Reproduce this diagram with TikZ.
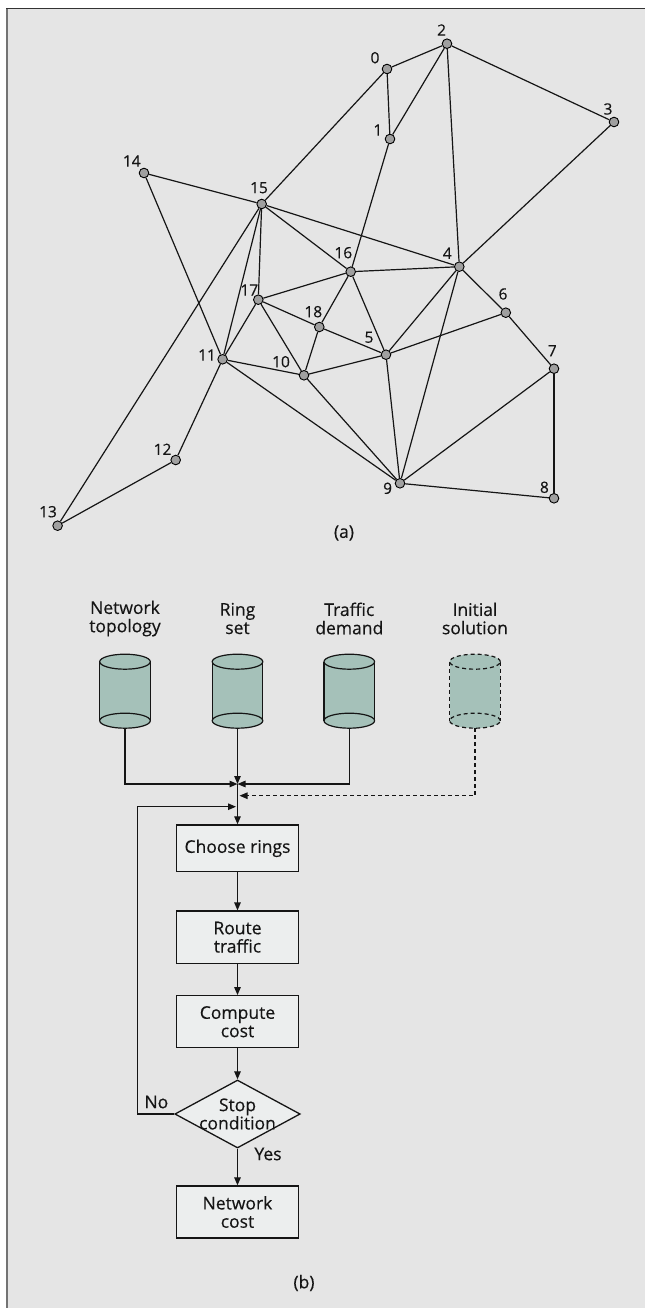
\documentclass[tikz,border=0pt]{standalone}
\usepackage{fontspec}
\setmainfont{Open Sans}[FakeBold=0.35]
\usetikzlibrary{shapes.geometric,arrows.meta}

\definecolor{panelgray}{HTML}{E5E5E5}
\definecolor{boxfill}{HTML}{ECEEEE}
\definecolor{storefill}{HTML}{A5C1B9}
\definecolor{sitegray}{HTML}{A0A0A0}
\definecolor{inkcol}{HTML}{151515}

\tikzset{
  store/.pic={
    \fill[storefill] (-25.3,0) rectangle (25.3,59);
    \fill[storefill] (0,59) ellipse[x radius=25.3pt,y radius=7.5pt];
    \draw (-25.3,0) -- (-25.3,59) (25.3,0) -- (25.3,59);
    \draw[fill=storefill] (0,0) ellipse[x radius=25.3pt,y radius=7.5pt];
    \draw (0,59) ellipse[x radius=25.3pt,y radius=7.5pt];
    \coordinate (-bot) at (0,66.5);
  }
}

\begin{document}
\begin{tikzpicture}[x=1pt,y=-1pt,
  >={Triangle[length=8pt,width=6.5pt]},
  link/.style={draw=inkcol,line width=1.2pt},
  site/.style={circle,draw=black,line width=0.9pt,fill=sitegray,inner sep=0pt,minimum size=9.6pt},
  num/.style={font=\fontsize{15.5}{16}\selectfont,text=inkcol,inner sep=0pt},
  txt/.style={font=\fontsize{17.5}{18.3}\selectfont,text=inkcol,align=center,inner sep=0pt},
  flow/.style={draw=inkcol,line width=1.2pt},
  procbox/.style={txt,rectangle,draw=inkcol,line width=1.3pt,fill=boxfill,minimum width=121.5pt},
  decision/.style={diamond,draw=inkcol,line width=1.3pt,fill=boxfill,inner sep=0pt,minimum width=125.4pt,minimum height=68pt}
]
\useasboundingbox (0,0) rectangle (645,1308);

% panel and its frame
\fill[panelgray] (6,8.5) rectangle (645,1308);
\draw[line width=2pt,draw=black!55] (6.5,8.5) -- (6.5,1308);
\draw[line width=1.5pt,draw=black!80] (6,8.5) -- (645,8.5);

% (a) network
\foreach \name/\px/\py in {0/387/69, 1/390/139, 2/447/43.7, 3/614/122,
    4/459.3/266.7, 5/386/354.7, 6/505.8/312.7, 7/554/368.7, 8/554/498.3,
    9/400/483.3, 10/304/375.3, 11/222.6/359.3, 12/175.7/460, 13/57.6/525.7,
    14/144/173, 15/261.7/204, 16/350.7/271.7, 17/258.3/299.7, 18/319.3/327}
  \node[site] (n\name) at (\px,\py) {};

\foreach \a/\b in {0/2, 0/1, 0/15, 2/1, 2/3, 2/4, 3/4, 1/16, 14/15, 14/11,
    15/16, 15/4, 15/17, 15/11, 15/13, 16/4, 16/17, 16/18, 16/5, 4/6, 4/5,
    4/9, 17/18, 17/11, 17/10, 18/5, 18/10, 6/5, 6/7, 7/9, 7/8, 11/10,
    11/12, 11/9, 10/5, 10/9, 5/9, 9/8, 12/13}
  \draw[link] (n\a) -- (n\b);

\foreach \name/\dx/\dy in {0/-12/-11.3, 1/-12.2/-9, 2/-5.4/-13.7, 3/-6/-13,
    4/-12/-13.4, 5/-17/-17.4, 6/-2.8/-18.7, 7/-1.7/-18, 8/-9.6/-11,
    9/-12.4/5, 10/-23/-13.6, 11/-15.6/-4.3, 12/-13.2/-10.7, 13/-9.6/-14,
    14/-12.3/-12, 15/-2.7/-16.3, 16/-7.4/-19, 17/-9/-9.7, 18/-6/-15.3}
  \path (n\name.center) ++(\dx,\dy) node[num] {\name};

\node[txt] (capa) at (344,533) {(a)};

% (b) flow chart
\node[txt] (topolbl) at (125,618.5) {Network\\topology};
\node[txt] (ringlbl) at (237.5,618.5) {Ring\\set};
\node[txt] (traflbl) at (349.3,618.5) {Traffic\\demand};
\node[txt] (initlbl) at (475,618.5) {Initial\\solution};

\begin{scope}[draw=inkcol,line width=1.2pt]
  \pic (topo) at (125,661.7) {store};
  \pic (ring) at (237.5,661.7) {store};
  \pic (traffic) at (349.3,661.7) {store};
  \pic[dash pattern=on 4pt off 3pt] (init) at (475,661.7) {store};
\end{scope}

\node[procbox,minimum height=46.7pt] (choose) at (237.5,848.3) {Choose rings};
\node[procbox,minimum height=52.3pt] (route) at (237.5,937.2) {Route\\traffic};
\node[procbox,minimum height=52pt] (compute) at (237.5,1021.7) {Compute\\cost};
\node[decision] (stop) at (237.5,1114) {};
\node[txt] (stoptxt) at (stop.center) {Stop\\condition};
\node[procbox,minimum height=52pt] (netcost) at (237.5,1212) {Network\\cost};

\coordinate (join) at (237.5,784);
\coordinate (dashin) at (239.5,795.7);
\coordinate (loopin) at (236,806.7);

\draw[flow,->] (topo-bot) |- (join);
\draw[flow,->] (ring-bot) -- (join);
\draw[flow,->] (traffic-bot) |- (join);
\draw[flow,->,dash pattern=on 4pt off 3pt] (init-bot) |- (dashin);
\draw[flow,->] (join) -- (choose);
\draw[flow,->] (choose) -- (route);
\draw[flow,->] (route) -- (compute);
\draw[flow,->] (compute) -- (stop);
\draw[flow,->] (stop) -- (netcost);
\draw[flow,->] (stop.west) -- ++(-37,0) |- (loopin);

\node[txt] (nolbl) at (156.4,1102) {No};
\node[txt] (yeslbl) at (268,1154) {Yes};
\node[txt] (capb) at (304,1283) {(b)};
\end{tikzpicture}
\end{document}
